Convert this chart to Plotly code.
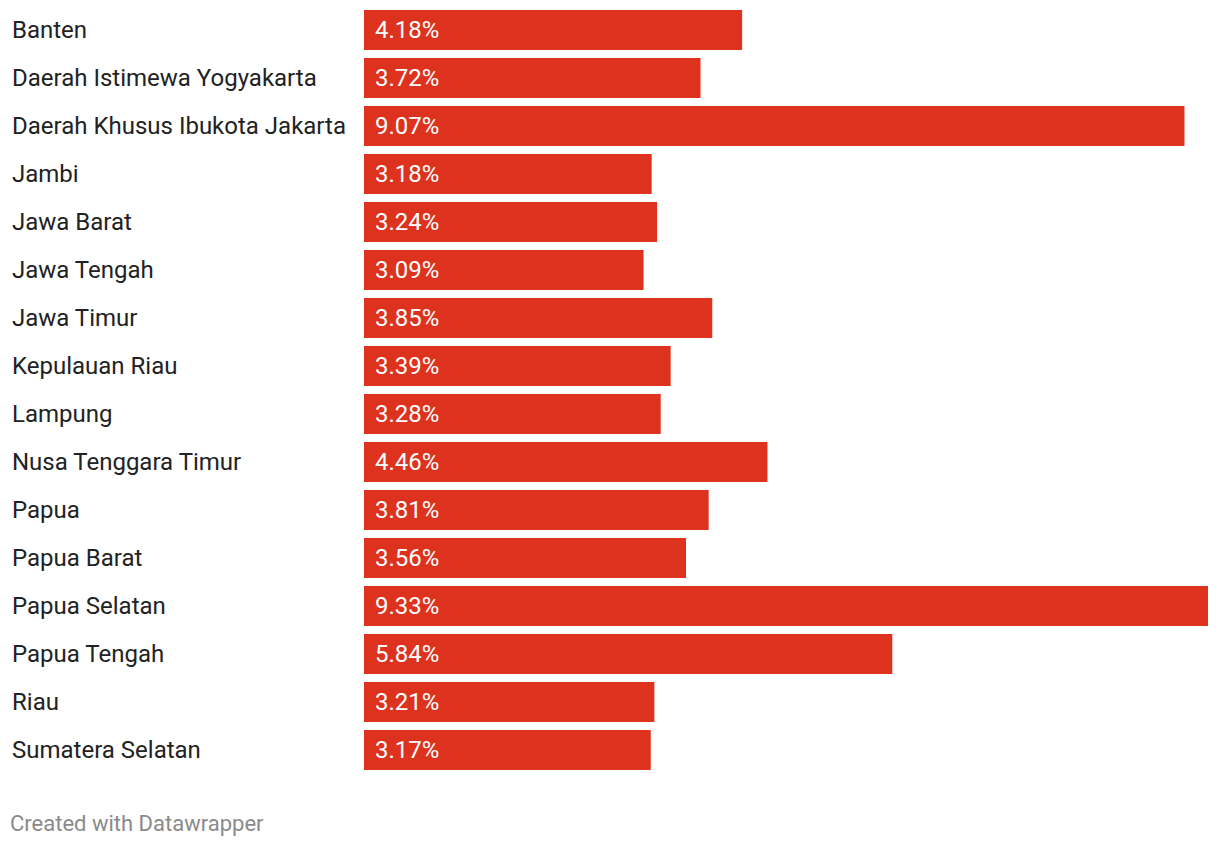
import plotly.graph_objects as go

provinces = ["Banten", "Daerah Istimewa Yogyakarta", "Daerah Khusus Ibukota Jakarta", "Jambi",
             "Jawa Barat", "Jawa Tengah", "Jawa Timur", "Kepulauan Riau", "Lampung",
             "Nusa Tenggara Timur", "Papua", "Papua Barat", "Papua Selatan", "Papua Tengah",
             "Riau", "Sumatera Selatan"]
values = [4.18, 3.72, 9.07, 3.18, 3.24, 3.09, 3.85, 3.39, 3.28, 4.46, 3.81, 3.56, 9.33, 5.84, 3.21, 3.17]

RED = "#dc321e"
FONT = "Roboto, Arial, sans-serif"
FS = 24

fig = go.Figure(go.Bar(
    x=values, y=provinces, orientation="h",
    marker=dict(color=RED, line=dict(width=0)),
    hoverinfo="skip",
))

annotations = []
for p, v in zip(provinces, values):
    annotations.append(dict(x=0, y=p, xref="x", yref="y", text=p, showarrow=False,
                            xanchor="left", xshift=-354, font=dict(family=FONT, size=FS, color="#222222")))
    annotations.append(dict(x=0, y=p, xref="x", yref="y", text=f"{v:.2f}%", showarrow=False,
                            xanchor="left", xshift=9, font=dict(family=FONT, size=FS, color="#ffffff")))
annotations.append(dict(x=0, y=0, xref="paper", yref="paper", text="Created with Datawrapper",
                        showarrow=False, xanchor="left", yanchor="middle", xshift=-356, yshift=-49,
                        font=dict(family=FONT, size=22, color="#8a8a8a")))

n = len(provinces)
fig.update_layout(
    width=1212, height=838,
    margin=dict(l=356, r=12, t=0, b=72),
    paper_bgcolor="white", plot_bgcolor="white",
    bargap=8/48,
    showlegend=False,
    xaxis=dict(range=[0, max(values)], visible=False, fixedrange=True),
    yaxis=dict(range=[n - 0.5, -22/48], visible=False, fixedrange=True),
    annotations=annotations,
)

fig.write_html("out.html")
